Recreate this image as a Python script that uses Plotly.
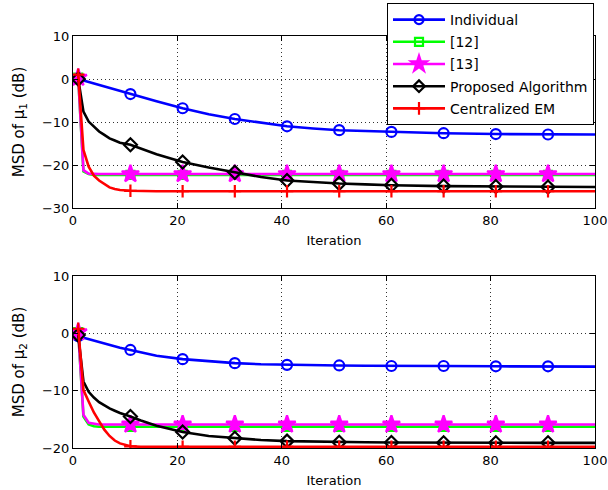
import plotly.graph_objects as go
from plotly.subplots import make_subplots

iterations = [1, 2, 3, 4, 5, 6, 7, 8, 9, 11, 13, 16, 21, 26, 31, 36, 41, 46, 51, 56, 61, 71, 81, 91, 100]
marker_iters = [1, 11, 21, 31, 41, 51, 61, 71, 81, 91]

series_names = ["Individual", "[12]", "[13]", "Proposed Algorithm", "Centralized EM"]

# Top subplot: MSD of mu_1 (dB)
mu1_individual = [0, -0.35, -0.7, -1.05, -1.4, -1.75, -2.1, -2.45, -2.8, -3.5, -4.2, -5.2, -6.8, -8.2, -9.3, -10.2, -11.0, -11.5, -11.9, -12.1, -12.3, -12.6, -12.8, -12.9, -12.9]
mu1_ref12 = [0.3, -21.5, -22.1, -22.3, -22.3, -22.3, -22.3, -22.3, -22.3, -22.3, -22.3, -22.3, -22.3, -22.3, -22.3, -22.3, -22.3, -22.3, -22.3, -22.3, -22.3, -22.3, -22.3, -22.3, -22.3]
mu1_ref13 = [0.3, -21.2, -22.0, -22.1, -22.1, -22.1, -22.1, -22.1, -22.1, -22.1, -22.1, -22.1, -22.1, -22.1, -22.1, -22.1, -22.1, -22.1, -22.1, -22.1, -22.1, -22.1, -22.1, -22.1, -22.1]
mu1_proposed = [0, -7.6, -9.9, -11.0, -12.2, -13.0, -13.8, -14.3, -14.8, -15.3, -16.2, -17.5, -19.3, -20.6, -21.7, -22.8, -23.6, -24.0, -24.3, -24.5, -24.7, -24.9, -25.0, -25.1, -25.1]
mu1_central = [1.0, -16.5, -20.4, -22.5, -23.6, -24.5, -25.2, -25.6, -25.8, -26.0, -26.1, -26.1, -26.1, -26.1, -26.1, -26.1, -26.1, -26.1, -26.1, -26.1, -26.1, -26.1, -26.1, -26.1, -26.1]

# Bottom subplot: MSD of mu_2 (dB)
mu2_individual = [-0.5, -0.75, -1.0, -1.3, -1.55, -1.8, -2.05, -2.3, -2.5, -2.9, -3.3, -3.9, -4.5, -4.9, -5.2, -5.4, -5.5, -5.55, -5.6, -5.65, -5.7, -5.7, -5.75, -5.75, -5.8]
mu2_ref12 = [0.2, -14.5, -15.9, -16.2, -16.3, -16.3, -16.3, -16.3, -16.3, -16.3, -16.3, -16.3, -16.3, -16.3, -16.3, -16.3, -16.3, -16.3, -16.3, -16.3, -16.3, -16.3, -16.3, -16.3, -16.3]
mu2_ref13 = [0.2, -14.2, -15.6, -15.8, -15.9, -15.9, -15.9, -15.9, -15.9, -15.9, -15.9, -15.9, -15.9, -15.9, -15.9, -15.9, -15.9, -15.9, -15.9, -15.9, -15.9, -15.9, -15.9, -15.9, -15.9]
mu2_proposed = [-0.3, -8.4, -10.2, -11.2, -12.0, -12.6, -13.1, -13.5, -13.9, -14.5, -15.2, -16.1, -17.2, -17.9, -18.3, -18.6, -18.8, -18.9, -19.0, -19.0, -19.05, -19.1, -19.1, -19.1, -19.1]
mu2_central = [0.8, -9.9, -11.9, -13.8, -15.3, -16.8, -17.9, -18.7, -19.2, -19.7, -19.8, -19.8, -19.8, -19.8, -19.8, -19.8, -19.8, -19.8, -19.8, -19.8, -19.8, -19.8, -19.8, -19.8, -19.8]

colors = ["#0000FF", "#00FF00", "#FF00FF", "#000000", "#FF0000"]
symbols = ["circle-open", "square-open", "star", "diamond-open", "cross-thin-open"]
msizes = [10, 8, 13, 10, 9]

FONT = "DejaVu Sans, sans-serif"

fig = make_subplots(rows=2, cols=1, vertical_spacing=0.165)

top = [mu1_individual, mu1_ref12, mu1_ref13, mu1_proposed, mu1_central]
bot = [mu2_individual, mu2_ref12, mu2_ref13, mu2_proposed, mu2_central]

def add_series(data, row):
    for i, vals in enumerate(data):
        fig.add_trace(go.Scatter(x=iterations, y=vals, mode="lines",
                                 line=dict(color=colors[i], width=2.6),
                                 showlegend=False, hoverinfo="skip"), row=row, col=1)
        mx = [x for x in iterations if x in marker_iters]
        my = [v for x, v in zip(iterations, vals) if x in marker_iters]
        fig.add_trace(go.Scatter(x=mx, y=my, mode="markers",
                                 marker=dict(symbol=symbols[i], size=msizes[i], color=colors[i],
                                             line=dict(color=colors[i], width=2.2)),
                                 showlegend=False), row=row, col=1)

add_series(top, 1)
add_series(bot, 2)

# legend entries
legend_msizes = [9, 8, 12, 9, 9]
for i, name in enumerate(series_names):
    fig.add_trace(go.Scatter(x=[None], y=[None], mode="lines+markers", name=name,
                             legendgroup=name,
                             line=dict(color=colors[i], width=2.6),
                             marker=dict(symbol=symbols[i], size=legend_msizes[i], color=colors[i],
                                         line=dict(color=colors[i], width=2.2))), row=1, col=1)

axis_common = dict(showline=True, linecolor="black", linewidth=1, mirror="allticks",
                   ticks="inside", ticklen=5, tickcolor="black",
                   showgrid=True, gridcolor="#333333", griddash="1px,3px", gridwidth=1,
                   zeroline=False, tickfont=dict(size=13, color="black", family=FONT))

for r in (1, 2):
    fig.update_xaxes(range=[0, 100], dtick=20, row=r, col=1,
                     title=dict(text="Iteration", standoff=9, font=dict(size=13, color="black", family=FONT)),
                     **axis_common)

fig.update_yaxes(range=[-30, 10], dtick=10, row=1, col=1,
                 title=dict(text="MSD of μ<sub>1</sub> (dB)", standoff=13, font=dict(size=15, color="black", family=FONT)),
                 **axis_common)
fig.update_yaxes(range=[-20, 10], dtick=10, row=2, col=1,
                 title=dict(text="MSD of μ<sub>2</sub> (dB)", standoff=13, font=dict(size=15, color="black", family=FONT)),
                 **axis_common)

fig.update_layout(
    width=608, height=490,
    margin=dict(l=73, r=13, t=36, b=42, autoexpand=False),
    paper_bgcolor="white", plot_bgcolor="white",
    font=dict(family=FONT, color="black"),
    legend=dict(x=387 / 608, xref="container", xanchor="left",
                y=1 - 3 / 490, yref="container", yanchor="top",
                bgcolor="white", bordercolor="black", borderwidth=1,
                font=dict(size=14, color="black", family=FONT),
                itemwidth=52, tracegroupgap=1),
)
fig.update_layout(yaxis=dict(domain=[0.5825, 1.0]), yaxis2=dict(domain=[0.0, 0.4175]))

fig.write_html("out.html", config={"displayModeBar": False},
               post_script="document.body.style.margin='0px';")
